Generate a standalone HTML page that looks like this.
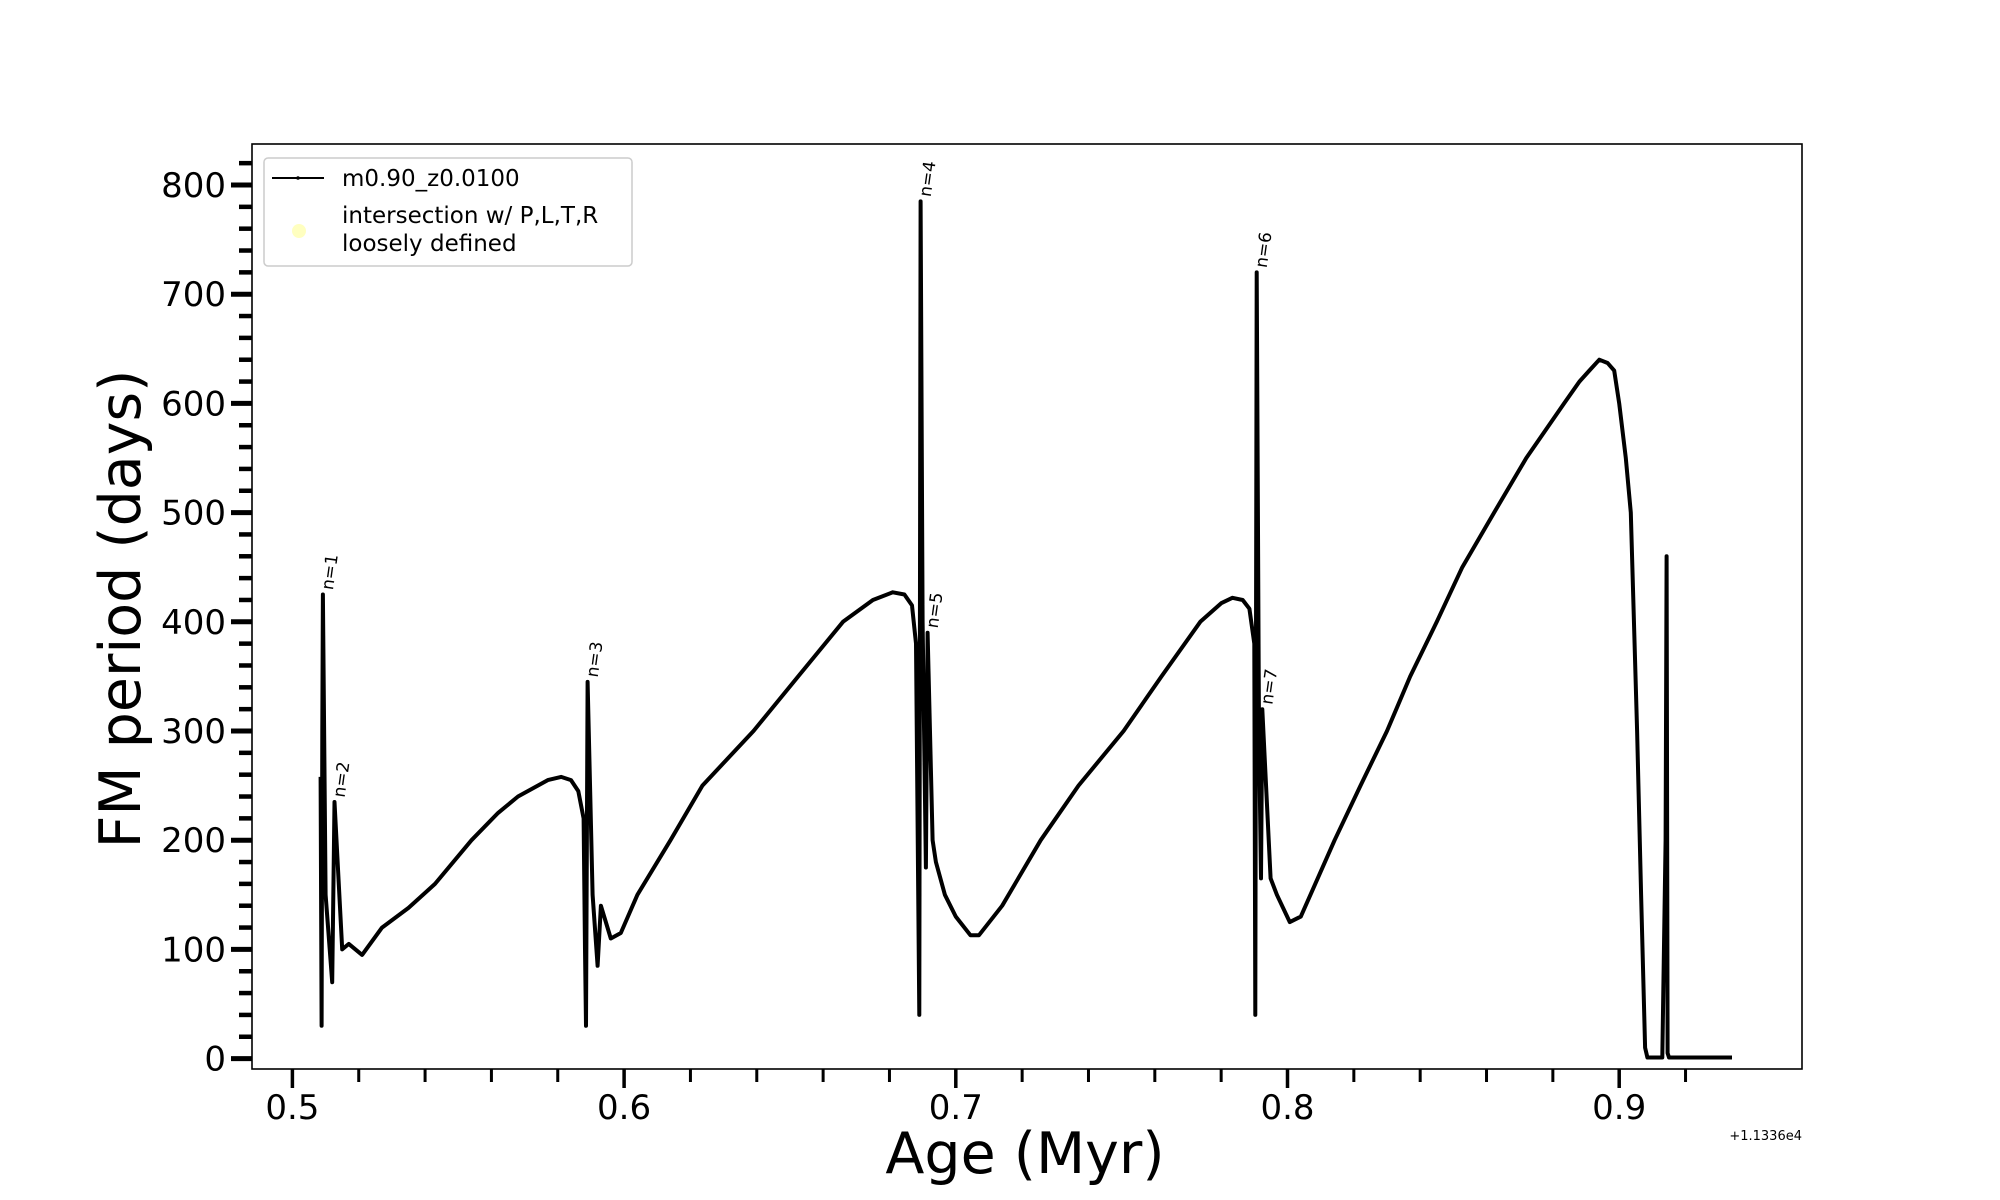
<!DOCTYPE html>
<html><head><meta charset="utf-8"><style>
html,body{margin:0;padding:0;background:#fff;}
svg{display:block;font-family:"DejaVu Sans","Liberation Sans",sans-serif;}
</style></head><body>
<svg id="chart" width="2000" height="1200" viewBox="0 0 2000 1200" xmlns="http://www.w3.org/2000/svg">
<rect x="252" y="144" width="1550" height="925" fill="#fff" stroke="#000" stroke-width="1.6"/>
<g id="ticks"></g>
<g id="series"></g>
<g id="notes"></g>
<text x="1025" y="1173" font-size="57" text-anchor="middle">Age (Myr)</text>
<text transform="translate(140,609) rotate(-90)" font-size="57" text-anchor="middle">FM period (days)</text>
<text x="1802" y="1140" font-size="13" text-anchor="end">+1.1336e4</text>
<g>
<rect x="264" y="158" width="368" height="108" rx="4" fill="#fff" stroke="#ccc" stroke-width="1.5"/>
<line x1="272" y1="178" x2="324" y2="178" stroke="#000" stroke-width="2"/>
<circle cx="298" cy="178" r="1.8" fill="#000"/>
<text x="342" y="186" font-size="23">m0.90_z0.0100</text>
<circle cx="299" cy="231" r="7" fill="#ffffc0"/>
<text x="342" y="223" font-size="23">intersection w/ P,L,T,R</text>
<text x="342" y="251" font-size="23">loosely defined</text>
</g>
</svg>
<script>
const ages=[0.5085,0.5088,0.5090,0.5092,0.5100,0.5120,0.5127,0.5150,0.5170,0.5210,0.5270,0.5350,0.5430,0.5540,0.5620,0.5680,0.5770,0.5810,0.5840,0.5862,0.5878,0.5882,0.5885,0.5890,0.5905,0.5920,0.5930,0.5960,0.5990,0.6040,0.6140,0.6236,0.6390,0.6525,0.6660,0.6750,0.6810,0.6845,0.6868,0.6880,0.6890,0.6894,0.6900,0.6910,0.6915,0.6930,0.6940,0.6967,0.7000,0.7044,0.7070,0.7140,0.7256,0.7370,0.7506,0.7620,0.7737,0.7800,0.7834,0.7865,0.7885,0.7900,0.7903,0.7907,0.7914,0.7920,0.7924,0.7949,0.7968,0.8007,0.8040,0.8142,0.8220,0.8300,0.8370,0.8450,0.8527,0.8623,0.8720,0.8834,0.8880,0.8910,0.8940,0.8965,0.8985,0.9000,0.9020,0.9035,0.9054,0.9066,0.9078,0.9085,0.9130,0.9140,0.9143,0.9146,0.9150,0.9340];
const periods=[258,30,300,425,150,70,235,100,105,95,120,138,160,200,225,240,255,258,255,245,220,100,30,345,150,85,140,110,115,150,200,250,300,350,400,420,427,425,415,380,40,785,400,175,390,200,180,150,130,113,113,140,200,250,300,350,400,417,422,420,412,380,40,720,300,165,320,165,150,125,130,200,250,300,350,400,450,500,550,600,620,630,640,637,630,600,550,500,300,150,10,1,1,200,460,5,1,1];
const xTicks=[0.5,0.6,0.7,0.8,0.9];
const xTickLabels=["0.5","0.6","0.7","0.8","0.9"];
const yTicks=[0,100,200,300,400,500,600,700,800];
const yTickLabels=["0","100","200","300","400","500","600","700","800"];
const noteLabels=["n=1","n=2","n=3","n=4","n=5","n=6","n=7"];
const noteAges=[0.5092,0.5127,0.5890,0.6894,0.6915,0.7907,0.7924];
const notePeriods=[425,235,345,785,390,720,320];

const NS="http://www.w3.org/2000/svg";
function X(a){return 292.4+(a-0.5)/0.1*331.7;}
function Y(p){return 1058.6-p/100*109.2;}
function mk(tag,attrs,parent){const e=document.createElementNS(NS,tag);for(const k in attrs)e.setAttribute(k,attrs[k]);parent.appendChild(e);return e;}
const tg=document.getElementById('ticks');
for(let i=0;i<=22;i++){const a=0.48+i*0.02;const x=X(a);if(x<252||x>1802)continue;
 const major=Math.abs((a*10)-Math.round(a*10))<1e-6;
 const t=mk('line',{x1:x,y1:1069,x2:x,y2:1069+(major?19:13),stroke:'#000','stroke-width':major?3.5:3},tg);
 
 }
xTicks.forEach((v,i)=>{const t=mk('text',{x:X(v),y:1119,'font-size':34,'text-anchor':'middle'},tg);t.textContent=xTickLabels[i];
 
 });
for(let v=0;v<=820;v+=20){const y=Y(v);if(y<144)continue;const major=v%100===0;
 const t=mk('line',{x1:252-(major?21:13),y1:y,x2:252,y2:y,stroke:'#000','stroke-width':major?5:4.5},tg);
 
 }
yTicks.forEach((v,i)=>{const t=mk('text',{x:226,y:Y(v)+12,'font-size':34,'text-anchor':'end'},tg);t.textContent=yTickLabels[i];
 
 });
const sg=document.getElementById('series');
const d=ages.map((a,i)=>(i?'L':'M')+X(a).toFixed(1)+','+Y(periods[i]).toFixed(1)).join(' ');
const path=mk('path',{d:d,fill:'none',stroke:'#000','stroke-width':4,'stroke-linejoin':'round'},sg);


const ng=document.getElementById('notes');
noteLabels.forEach((s,i)=>{const x=X(noteAges[i])+10,y=Y(notePeriods[i])-4;
 const t=mk('text',{x:0,y:0,'font-size':17,transform:`translate(${x},${y}) rotate(-82)`},ng);t.textContent=s;
 
 });
</script>
</body></html>
